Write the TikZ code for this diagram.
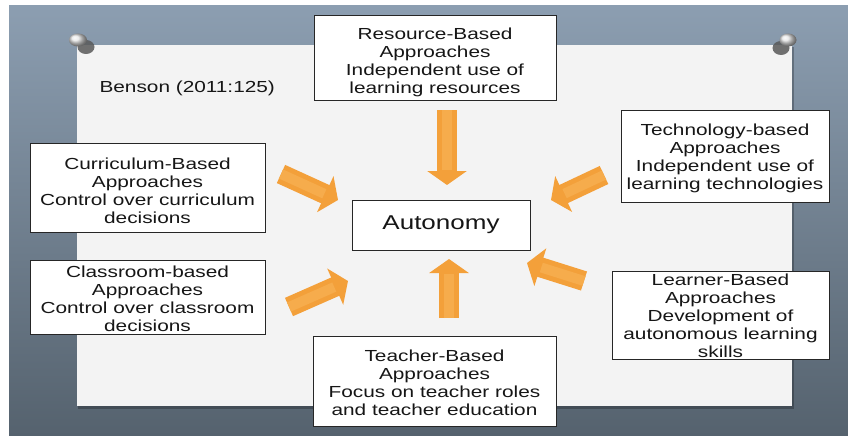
\documentclass[tikz,border=0pt]{standalone}
\usepackage{fontspec}
\setmainfont[FakeStretch=1.3]{Liberation Sans}
\usetikzlibrary{arrows.meta}
\definecolor{bgtop}{HTML}{8C9EB1}
\definecolor{bgbot}{HTML}{55626E}
\definecolor{paper}{HTML}{F3F3F3}
\definecolor{arr}{HTML}{F3A03A}
\definecolor{arrlt}{HTML}{F6AC4C}
\definecolor{txt}{HTML}{161616}
\newcommand\upsh[1]{\rule{0pt}{#1}}
\tikzset{
  box/.style={draw=black!85, line width=0.9pt, fill=white, align=center,
    inner sep=0pt, text=txt, font=\fontsize{16}{17.9}\selectfont},
  barrow/.style={draw=arr, line width=20pt, -{Triangle[width=39pt,length=14pt]}},
}
\begin{document}
\begin{tikzpicture}[x=1pt,y=-1pt]
\useasboundingbox (0,0) rectangle (848,436);
\fill[white] (0,0) rectangle (848,436);
\shade[top color=bgtop, bottom color=bgbot] (9,6) rectangle (848,436);
% paper
\fill[black, opacity=0.25] (78,47) rectangle (794,409);
\fill[paper] (77,45) rectangle (792,406);
% pins
\fill[black!65, opacity=0.85] (86,47) ellipse [x radius=8.5, y radius=7];
\shade[ball color=white!80!gray] (78,40) ellipse [x radius=9, y radius=6.5];
\fill[black!65, opacity=0.85] (781,48) ellipse [x radius=8.5, y radius=7];
\shade[ball color=white!80!gray] (788,40) ellipse [x radius=8.5, y radius=6.5];
% label
\node[text=txt, font=\fontsize{16}{18}\selectfont, anchor=west] (benson) at (96,88) {Benson (2011:125)};
% boxes
\node[box, minimum width=242pt, minimum height=85pt] (res) at (435,57.5)
  {\upsh{21.5pt}Resource-Based\\Approaches\\Independent use of\\learning resources};
\node[box, minimum width=235pt, minimum height=89pt] (cur) at (147.5,187.5)
  {\upsh{17.5pt}Curriculum-Based\\Approaches\\Control over curriculum\\decisions};
\node[box, minimum width=235pt, minimum height=74pt] (cls) at (147.5,297)
  {\upsh{15.5pt}Classroom-based\\Approaches\\Control over classroom\\decisions};
\node[box, minimum width=178pt, minimum height=50pt, font=\fontsize{20}{22}\selectfont] (aut) at (441,225)
  {Autonomy};
\node[box, minimum width=208pt, minimum height=92pt] (tec) at (725,156)
  {\upsh{16.5pt}Technology-based\\Approaches\\Independent use of\\learning technologies};
\node[box, minimum width=217pt, minimum height=88pt] (lrn) at (720.5,315)
  {\upsh{13.5pt}Learner-Based\\Approaches\\Development of\\autonomous learning\\skills};
\node[box, minimum width=243pt, minimum height=90pt] (tch) at (434.5,381)
  {\upsh{15.5pt}Teacher-Based\\Approaches\\Focus on teacher roles\\and teacher education};
% arrow end points
\coordinate (a1s) at (447,110);  \coordinate (a1e) at (447,185);
\coordinate (a2s) at (449,318);  \coordinate (a2e) at (449,259);
\coordinate (a3s) at (281,174);  \coordinate (a3e) at (338,200);
\coordinate (a4s) at (289,307);  \coordinate (a4e) at (348,281);
\coordinate (a5s) at (604,175);  \coordinate (a5e) at (551,200);
\coordinate (a6s) at (584,281);  \coordinate (a6e) at (527,263);
\foreach \i in {1,...,6}{
  \draw[barrow] (a\i s) -- (a\i e);
  \draw[arrlt, line width=10pt, shorten >=15pt] (a\i s) -- (a\i e);
}
\end{tikzpicture}
\end{document}
